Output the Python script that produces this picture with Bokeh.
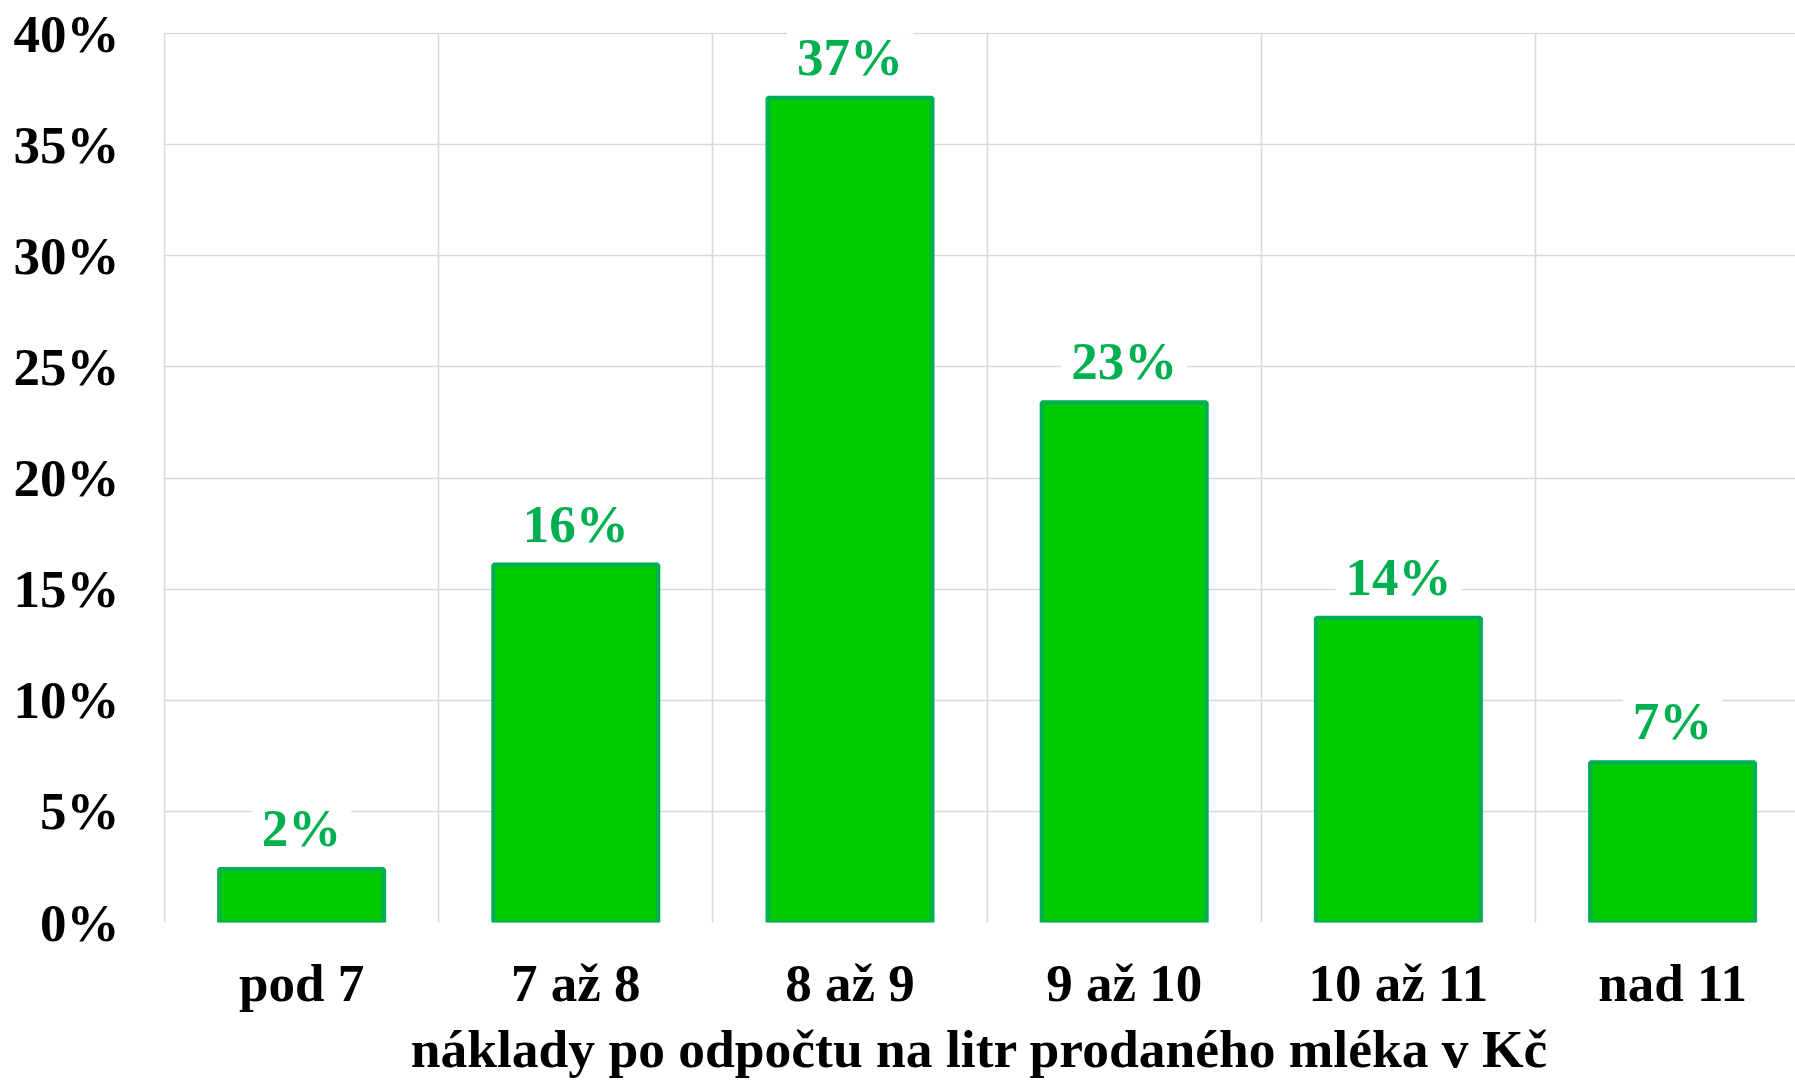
from bokeh.plotting import figure
from bokeh.models import (ColumnDataSource, Range1d, FixedTicker, Grid,
                          NumeralTickFormatter)
from bokeh.embed import file_html
from bokeh.resources import INLINE
from bokeh.core.properties import value

# ---- data ----
categories = ["pod 7", "7 až 8", "8 až 9", "9 až 10", "10 až 11", "nad 11"]
shares = [0.024, 0.161, 0.371, 0.234, 0.137, 0.072]
y_ticks = [0.0, 0.05, 0.10, 0.15, 0.20, 0.25, 0.30, 0.35, 0.40]
x_title = "náklady po odpočtu na litr prodaného mléka v Kč"

# ---- layout ----
W, H = 1795, 1081
LEFT, TOP, BOTTOM = 163, 32, 159
CAT_PX = 274.2
FONT_NAME = "Liberation Serif"
FS = "53px"

xs = list(range(1, len(categories) + 1))
labels = [f"{round(v * 100):d}%" for v in shares]
src = ColumnDataSource(dict(x=xs, top=shares, label=labels))

frame_h = H - TOP - BOTTOM
x_start = 0.5 - 1.0 / CAT_PX
x_end = x_start + (W - LEFT) / CAT_PX
y_end = y_ticks[-1] * (1 + 1.0 / (frame_h - 1.0))
p = figure(width=W, height=H, output_backend="svg", toolbar_location=None,
           x_range=Range1d(x_start, x_end), y_range=Range1d(0, y_end),
           min_border_left=LEFT, min_border_right=0, min_border_top=TOP,
           min_border_bottom=BOTTOM)
p.outline_line_color = None
p.background_fill_color = "white"
p.border_fill_color = "white"

# grids
p.xgrid.visible = False
p.ygrid.ticker = FixedTicker(ticks=y_ticks)
p.ygrid.grid_line_color = "#D9D9D9"
p.ygrid.grid_line_width = 1.6
vgrid = Grid(dimension=0, ticker=FixedTicker(ticks=[i + 0.5 for i in range(len(categories) + 1)]),
             grid_line_color="#D9D9D9", grid_line_width=1.6)
p.add_layout(vgrid)

# data labels (drawn before bars so bar outlines stay on top of the label boxes)
p.text(x="x", y="top", text="label", source=src,
       text_align="center", text_baseline="bottom",
       text_font=value(FONT_NAME), text_font_style="bold", text_font_size=FS,
       text_color="#00B050", background_fill_color="white",
       padding=dict(left=10, right=10, top=0, bottom=12))

# bars
p.vbar(x="x", top="top", width=0.6, source=src, fill_color="#00CC00",
       line_color="#00B050", line_width=4.5)

# y axis
yax = p.yaxis[0]
yax.ticker = FixedTicker(ticks=y_ticks)
yax.formatter = NumeralTickFormatter(format="0%")
yax.axis_line_color = None
yax.major_tick_line_color = None
yax.minor_tick_line_color = None
yax.major_label_standoff = 38
yax.major_label_text_font = FONT_NAME
yax.major_label_text_font_style = "bold"
yax.major_label_text_font_size = FS
yax.major_label_text_color = "black"

# x axis
xax = p.xaxis[0]
xax.ticker = FixedTicker(ticks=xs)
xax.major_label_overrides = {x: c for x, c in zip(xs, categories)}
xax.axis_line_color = None
xax.major_tick_line_color = None
xax.minor_tick_line_color = None
xax.major_label_standoff = 25
xax.major_label_text_font = FONT_NAME
xax.major_label_text_font_style = "bold"
xax.major_label_text_font_size = FS
xax.major_label_text_color = "black"
xax.axis_label = x_title
xax.axis_label_standoff = 4
xax.axis_label_text_font = FONT_NAME
xax.axis_label_text_font_style = "bold"
xax.axis_label_text_font_size = "53.5px"
xax.axis_label_text_color = "black"

open("out.html", "w").write(file_html(p, INLINE))
